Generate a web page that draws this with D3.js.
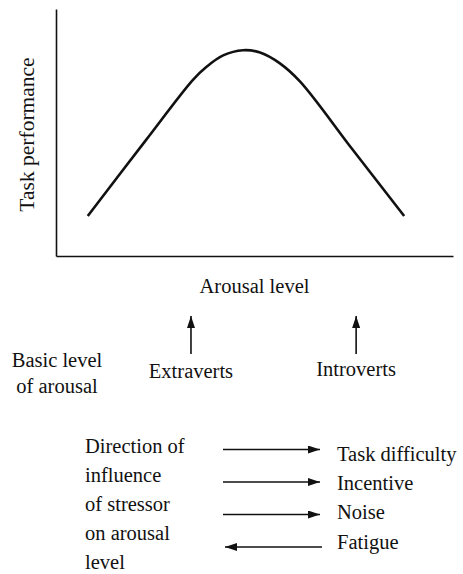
<!DOCTYPE html>
<html>
<head>
<meta charset="utf-8">
<script src="https://cdn.jsdelivr.net/npm/d3@7"></script>
<style>
  html, body { margin: 0; padding: 0; background: #fff; }
  svg { display: block; }
</style>
</head>
<body>
<svg id="chart" width="463" height="574"></svg>
<script>
// Inverted-U relation between arousal and task performance (abstract 0–100 units)
const arousal     = [8, 22.7, 34.5, 38, 42.1, 47.1, 51.4, 56.4, 61.5, 74.6, 87.7];
const performance = [16.2, 47, 71.3, 76.7, 81.2, 83.3, 82.4, 78, 70.6, 43.3, 16.2];

// Basic arousal level of each personality group, on the same arousal axis
const groups      = ["Extraverts", "Introverts"];
const groupLevels = [34, 75.6];

// Stressors and the direction in which they push arousal (+1 up, -1 down)
const stressors  = ["Task difficulty", "Incentive", "Noise", "Fatigue"];
const directions = [1, 1, 1, -1];

const leftCaption   = ["Basic level", "of arousal"];
const stressCaption = ["Direction of", "influence", "of stressor", "on arousal", "level"];

const FONT = "'Liberation Serif'";
const FS = 20.5;
const INK = "#111";

const svg = d3.select("#chart");

const x = d3.scaleLinear().domain([0, 100]).range([56, 453]);
const y = d3.scaleLinear().domain([0, 100]).range([256, 9]);

// arrowhead marker
svg.append("defs").append("marker")
  .attr("id", "head")
  .attr("viewBox", "0 0 12 8")
  .attr("refX", 12).attr("refY", 4)
  .attr("markerUnits", "userSpaceOnUse")
  .attr("markerWidth", 12).attr("markerHeight", 8)
  .attr("orient", "auto")
  .append("path").attr("d", "M0,0 L12,4 L0,8 Z").attr("fill", INK);

// axes: plain lines, no ticks
const yAxis = svg.append("g").attr("transform", `translate(${x(0)},0)`)
  .call(d3.axisLeft(y).tickValues([]).tickSizeOuter(0));
const xAxis = svg.append("g").attr("transform", `translate(0,${y(0)})`)
  .call(d3.axisBottom(x).tickValues([]).tickSizeOuter(0));
[yAxis, xAxis].forEach(g => g.select(".domain").attr("stroke", INK).attr("stroke-width", 1.6));

// performance curve
const pts = arousal.map((a, i) => [a, performance[i]]);
svg.append("path")
  .datum(pts)
  .attr("fill", "none")
  .attr("stroke", INK)
  .attr("stroke-width", 2.6)
  .attr("d", d3.line().x(d => x(d[0])).y(d => y(d[1])).curve(d3.curveCatmullRom.alpha(0.5)));

function label(sel, size) {
  return sel.style("font-family", FONT).style("font-size", size + "px").attr("fill", INK);
}

// axis titles
label(svg.append("text"), 21.5)
  .attr("transform", `translate(34,${(y(0) + y(100)) / 2 + 2}) rotate(-90)`)
  .attr("text-anchor", "middle")
  .text("Task performance");

label(svg.append("text"), FS)
  .attr("x", (x(0) + x(100)) / 2)
  .attr("y", 293)
  .attr("text-anchor", "middle")
  .text("Arousal level");

// basic arousal level of each group
label(svg.append("text"), FS)
  .attr("text-anchor", "middle")
  .selectAll("tspan").data(leftCaption).join("tspan")
  .attr("x", 57)
  .attr("y", (d, i) => 367 + i * 26)
  .text(d => d);

svg.selectAll(".grp-arrow").data(groupLevels).join("line")
  .attr("class", "grp-arrow")
  .attr("x1", d => x(d)).attr("x2", d => x(d))
  .attr("y1", 354).attr("y2", 316)
  .attr("stroke", INK).attr("stroke-width", 1.6)
  .attr("marker-end", "url(#head)");

label(svg.selectAll(".grp-label").data(groups).join("text"), FS)
  .attr("class", "grp-label")
  .attr("x", (d, i) => x(groupLevels[i]))
  .attr("y", (d, i) => 378 - i * 2)
  .attr("text-anchor", "middle")
  .text(d => d);

// stressor direction block
label(svg.append("text"), FS)
  .selectAll("tspan").data(stressCaption).join("tspan")
  .attr("x", 85)
  .attr("y", (d, i) => 453 + i * 29)
  .text(d => d);

const rowY = (i) => 449.5 + i * 32.5;
svg.selectAll(".str-arrow").data(directions).join("line")
  .attr("class", "str-arrow")
  .attr("x1", d => d > 0 ? 223 : 322)
  .attr("x2", d => d > 0 ? 320 : 225)
  .attr("y1", (d, i) => rowY(i)).attr("y2", (d, i) => rowY(i))
  .attr("stroke", INK).attr("stroke-width", 1.6)
  .attr("marker-end", "url(#head)");

label(svg.selectAll(".str-label").data(stressors).join("text"), FS)
  .attr("class", "str-label")
  .attr("x", 337)
  .attr("y", (d, i) => 461 + i * 29.2)
  .text(d => d);
</script>
</body>
</html>
